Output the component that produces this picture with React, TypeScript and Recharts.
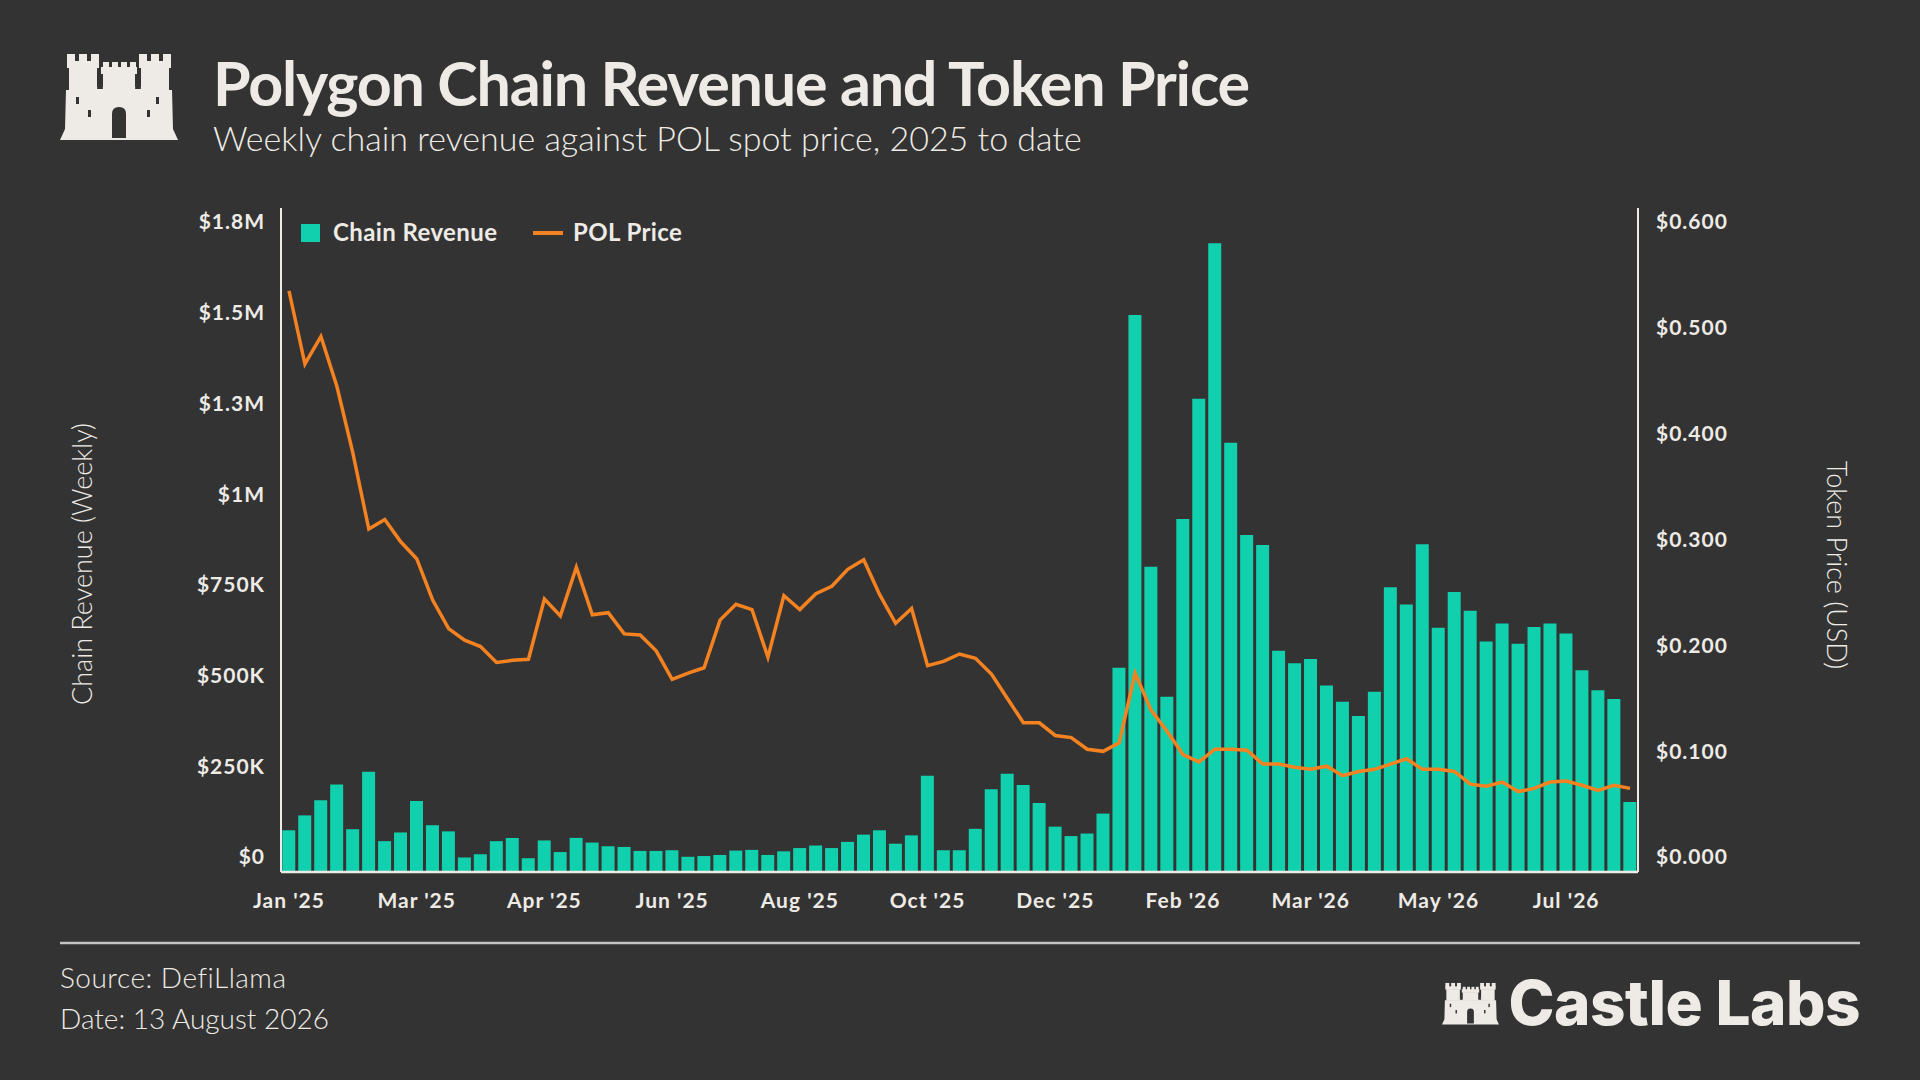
import React from 'react';
import { ComposedChart, Bar, Line, XAxis, YAxis, Legend } from 'recharts';

// weekly buckets, Jan 2025 -> Aug 2026
const WEEKS = [
  '2025-01-05', '2025-01-12', '2025-01-19', '2025-01-26', '2025-02-02', '2025-02-09', '2025-02-16', '2025-02-23',
  '2025-03-02', '2025-03-09', '2025-03-16', '2025-03-23', '2025-03-30', '2025-04-06', '2025-04-13', '2025-04-20',
  '2025-04-27', '2025-05-04', '2025-05-11', '2025-05-18', '2025-05-25', '2025-06-01', '2025-06-08', '2025-06-15',
  '2025-06-22', '2025-06-29', '2025-07-06', '2025-07-13', '2025-07-20', '2025-07-27', '2025-08-03', '2025-08-10',
  '2025-08-17', '2025-08-24', '2025-08-31', '2025-09-07', '2025-09-14', '2025-09-21', '2025-09-28', '2025-10-05',
  '2025-10-12', '2025-10-19', '2025-10-26', '2025-11-02', '2025-11-09', '2025-11-16', '2025-11-23', '2025-11-30',
  '2025-12-07', '2025-12-14', '2025-12-21', '2025-12-28', '2026-01-04', '2026-01-11', '2026-01-18', '2026-01-25',
  '2026-02-01', '2026-02-08', '2026-02-15', '2026-02-22', '2026-03-01', '2026-03-08', '2026-03-15', '2026-03-22',
  '2026-03-29', '2026-04-05', '2026-04-12', '2026-04-19', '2026-04-26', '2026-05-03', '2026-05-10', '2026-05-17',
  '2026-05-24', '2026-05-31', '2026-06-07', '2026-06-14', '2026-06-21', '2026-06-28', '2026-07-05', '2026-07-12',
  '2026-07-19', '2026-07-26', '2026-08-02', '2026-08-09', '2026-08-16',
];

// chain revenue, USD per week
const REVENUE = [
  115000, 156000, 198000, 241000, 118000, 276000, 85000, 109000,
  196000, 129000, 112000, 40000, 49000, 85000, 94000, 38000,
  87000, 55000, 94000, 81000, 71000, 69000, 58000, 58000,
  60000, 42000, 44000, 47000, 59000, 61000, 47000, 57000,
  66000, 73000, 66000, 83000, 103000, 115000, 78000, 101000,
  265000, 60000, 60000, 119000, 228000, 271000, 240000, 190000,
  125000, 99000, 106000, 161000, 563000, 1535000, 841000, 483000,
  973000, 1304000, 1733000, 1183000, 929000, 901000, 610000, 575000,
  587000, 514000, 469000, 430000, 497000, 785000, 737000, 903000,
  673000, 772000, 720000, 635000, 685000, 629000, 675000, 685000,
  657000, 556000, 501000, 477000, 193000,
];

// POL spot price, USD
const POL_PRICE = [
  0.549, 0.480, 0.506, 0.459, 0.396, 0.324, 0.333, 0.312,
  0.296, 0.257, 0.230, 0.219, 0.213, 0.198, 0.200, 0.201,
  0.258, 0.242, 0.288, 0.243, 0.245, 0.225, 0.224, 0.209,
  0.182, 0.188, 0.193, 0.238, 0.253, 0.248, 0.203, 0.261,
  0.248, 0.263, 0.270, 0.286, 0.295, 0.262, 0.235, 0.249,
  0.195, 0.199, 0.206, 0.202, 0.187, 0.164, 0.141, 0.141,
  0.129, 0.127, 0.116, 0.114, 0.122, 0.188, 0.153, 0.133,
  0.111, 0.104, 0.116, 0.116, 0.115, 0.102, 0.102, 0.099,
  0.097, 0.100, 0.091, 0.095, 0.097, 0.102, 0.107, 0.097,
  0.097, 0.095, 0.083, 0.081, 0.085, 0.076, 0.079, 0.085,
  0.086, 0.082, 0.077, 0.082, 0.079,
];

const REVENUE_TICKS = [0, 250000, 500000, 750000, 1000000, 1250000, 1500000, 1750000];
const REVENUE_TICK_LABELS = ['$0', '$250K', '$500K', '$750K', '$1M', '$1.3M', '$1.5M', '$1.8M'];
const PRICE_TICKS = [0, 0.1, 0.2, 0.3, 0.4, 0.5, 0.6];
const MONTHS = ['Jan', 'Feb', 'Mar', 'Apr', 'May', 'Jun', 'Jul', 'Aug', 'Sep', 'Oct', 'Nov', 'Dec'];

const BG = '#333333';
const INK = '#EEEBE6';
const TEAL = '#10D0AD';
const ORANGE = '#F58220';
const FONT = 'Lato, "Noto Sans", sans-serif';

const data = WEEKS.map((week, i) => ({ week, revenue: REVENUE[i], price: POL_PRICE[i] }));

function fmtWeek(w: string) {
  const [y, m] = w.split('-');
  return `${MONTHS[Number(m) - 1]} '${y.slice(2)}`;
}

function fmtRevenue(v: number) {
  const i = REVENUE_TICKS.indexOf(v);
  return i >= 0 ? REVENUE_TICK_LABELS[i] : '';
}

const tickStyle = { fill: INK, fontSize: 21, fontWeight: 700, fontFamily: FONT, letterSpacing: 1 };

function LegendContent() {
  return (
    <div style={{ position: 'relative', height: 30, width: 420, fontFamily: FONT, fontWeight: 700, fontSize: 24, color: INK, letterSpacing: 0.4 }}>
      <span style={{ position: 'absolute', left: 0, top: 7, width: 19, height: 18, background: TEAL }} />
      <span style={{ position: 'absolute', left: 32, top: 0, lineHeight: '30px', whiteSpace: 'nowrap' }}>Chain Revenue</span>
      <span style={{ position: 'absolute', left: 232, top: 14, width: 30, height: 4, background: ORANGE }} />
      <span style={{ position: 'absolute', left: 272, top: 0, lineHeight: '30px', whiteSpace: 'nowrap' }}>POL Price</span>
    </div>
  );
}

// castle mark, drawn in a 118 x 90 box
function Castle({ x, y, s }: { x: number; y: number; s: number }) {
  return (
    <g transform={`translate(${x} ${y}) scale(${s})`}>
      <g fill={INK}>
        <rect x={7} y={2} width={8} height={9} />
        <rect x={19} y={2} width={8} height={9} />
        <rect x={31} y={2} width={8} height={9} />
        <rect x={7} y={9} width={32} height={7} />
        <rect x={9} y={15} width={28} height={24} />
        <rect x={43} y={10} width={6} height={7} />
        <rect x={52} y={10} width={6} height={7} />
        <rect x={61} y={10} width={6} height={7} />
        <rect x={70} y={10} width={6} height={7} />
        <rect x={41} y={15} width={36} height={7} />
        <rect x={43} y={21} width={32} height={18} />
        <rect x={79} y={2} width={8} height={9} />
        <rect x={91} y={2} width={8} height={9} />
        <rect x={103} y={2} width={8} height={9} />
        <rect x={79} y={9} width={32} height={7} />
        <rect x={81} y={15} width={28} height={24} />
        <polygon points="6,38 112,38 113,77 118,88 0,88 5,77" />
        <polygon points="36,39 44,39 40,30" />
        <polygon points="74,39 82,39 78,30" />
      </g>
      <g fill={BG}>
        <polygon points="37,37 43,37 40,27" />
        <polygon points="75,37 81,37 78,27" />
        <path d="M52,86 V62 Q52,55 59,55 Q66,55 66,62 V86 Z" />
        <rect x={16} y={45} width={3} height={7} />
        <rect x={28} y={58} width={3} height={7} />
        <rect x={96} y={45} width={3} height={7} />
        <rect x={87} y={58} width={3} height={7} />
      </g>
    </g>
  );
}

export default function App() {
  return (
    <div style={{ position: 'absolute', left: 0, top: 0, width: 1920, height: 1080, background: BG, overflow: 'hidden', fontFamily: FONT }}>
      <div style={{ position: 'absolute', left: 0, top: 0 }}>
        <ComposedChart
          width={1920}
          height={1080}
          data={data}
          margin={{ top: 208, right: 182, bottom: 168, left: 181 }}
          barCategoryGap="8%"
        >
          <XAxis
            dataKey="week"
            interval={7}
            height={40}
            tickSize={0}
            tickMargin={21}
            tickLine={false}
            axisLine={{ stroke: INK, strokeWidth: 2.5 }}
            tick={tickStyle}
            tickFormatter={fmtWeek}
          />
          <YAxis
            yAxisId="rev"
            domain={[0, 1830000]}
            ticks={REVENUE_TICKS}
            width={100}
            tickSize={0}
            tickMargin={16}
            tickLine={false}
            axisLine={{ stroke: INK, strokeWidth: 2 }}
            tick={{ ...tickStyle, dy: -15 }}
            tickFormatter={fmtRevenue}
          />
          <YAxis
            yAxisId="price"
            orientation="right"
            domain={[0, 0.6274]}
            ticks={PRICE_TICKS}
            width={100}
            tickSize={0}
            tickMargin={18}
            tickLine={false}
            axisLine={{ stroke: INK, strokeWidth: 2 }}
            tick={{ ...tickStyle, dy: -15 }}
            tickFormatter={(v: number) => `$${v.toFixed(3)}`}
          />
          <Legend
            layout="horizontal"
            verticalAlign="middle"
            align="center"
            content={() => <LegendContent />}
            wrapperStyle={{ top: 217, left: 301, width: 420, height: 30 }}
          />
          <Bar yAxisId="rev" dataKey="revenue" fill={TEAL} isAnimationActive={false} />
          <Line
            yAxisId="price"
            dataKey="price"
            type="linear"
            stroke={ORANGE}
            strokeWidth={3.5}
            dot={false}
            activeDot={false}
            isAnimationActive={false}
          />
        </ComposedChart>
      </div>

      <svg width={1920} height={1080} style={{ position: 'absolute', left: 0, top: 0, pointerEvents: 'none' }}>
        <Castle x={60} y={52} s={1} />
        <text x={213} y={106} fill={INK} fontFamily={FONT} fontWeight={700} fontSize={61} style={{ letterSpacing: '-1.2px' }}>
          Polygon Chain Revenue and Token Price
        </text>
        <text x={213} y={151} fill={INK} fontFamily={FONT} fontWeight={300} fontSize={34}>
          Weekly chain revenue against POL spot price, 2025 to date
        </text>
        <text x={92} y={564} transform="rotate(-90 92 564)" textAnchor="middle" fill={INK} fontFamily={FONT} fontWeight={300} fontSize={27}>
          Chain Revenue (Weekly)
        </text>
        <text x={1827} y={565} transform="rotate(90 1827 565)" textAnchor="middle" fill={INK} fontFamily={FONT} fontWeight={300} fontSize={27}>
          Token Price (USD)
        </text>
        <line x1={60} x2={1860} y1={943} y2={943} stroke="#C4C4C4" strokeWidth={2.5} />
        <text x={60} y={988} fill={INK} fontFamily={FONT} fontWeight={300} fontSize={28} style={{ letterSpacing: '0.5px' }}>
          Source: DefiLlama
        </text>
        <text x={60} y={1029} fill={INK} fontFamily={FONT} fontWeight={300} fontSize={28}>
          Date: 13 August 2026
        </text>
        <Castle x={1442} y={982} s={0.483} />
        <text x={1860} y={1025} textAnchor="end" fill={INK} fontFamily="Inter, Lato, sans-serif" fontWeight={800} fontSize={62} style={{ letterSpacing: '-0.5px' }}>
          Castle Labs
        </text>
      </svg>
    </div>
  );
}
